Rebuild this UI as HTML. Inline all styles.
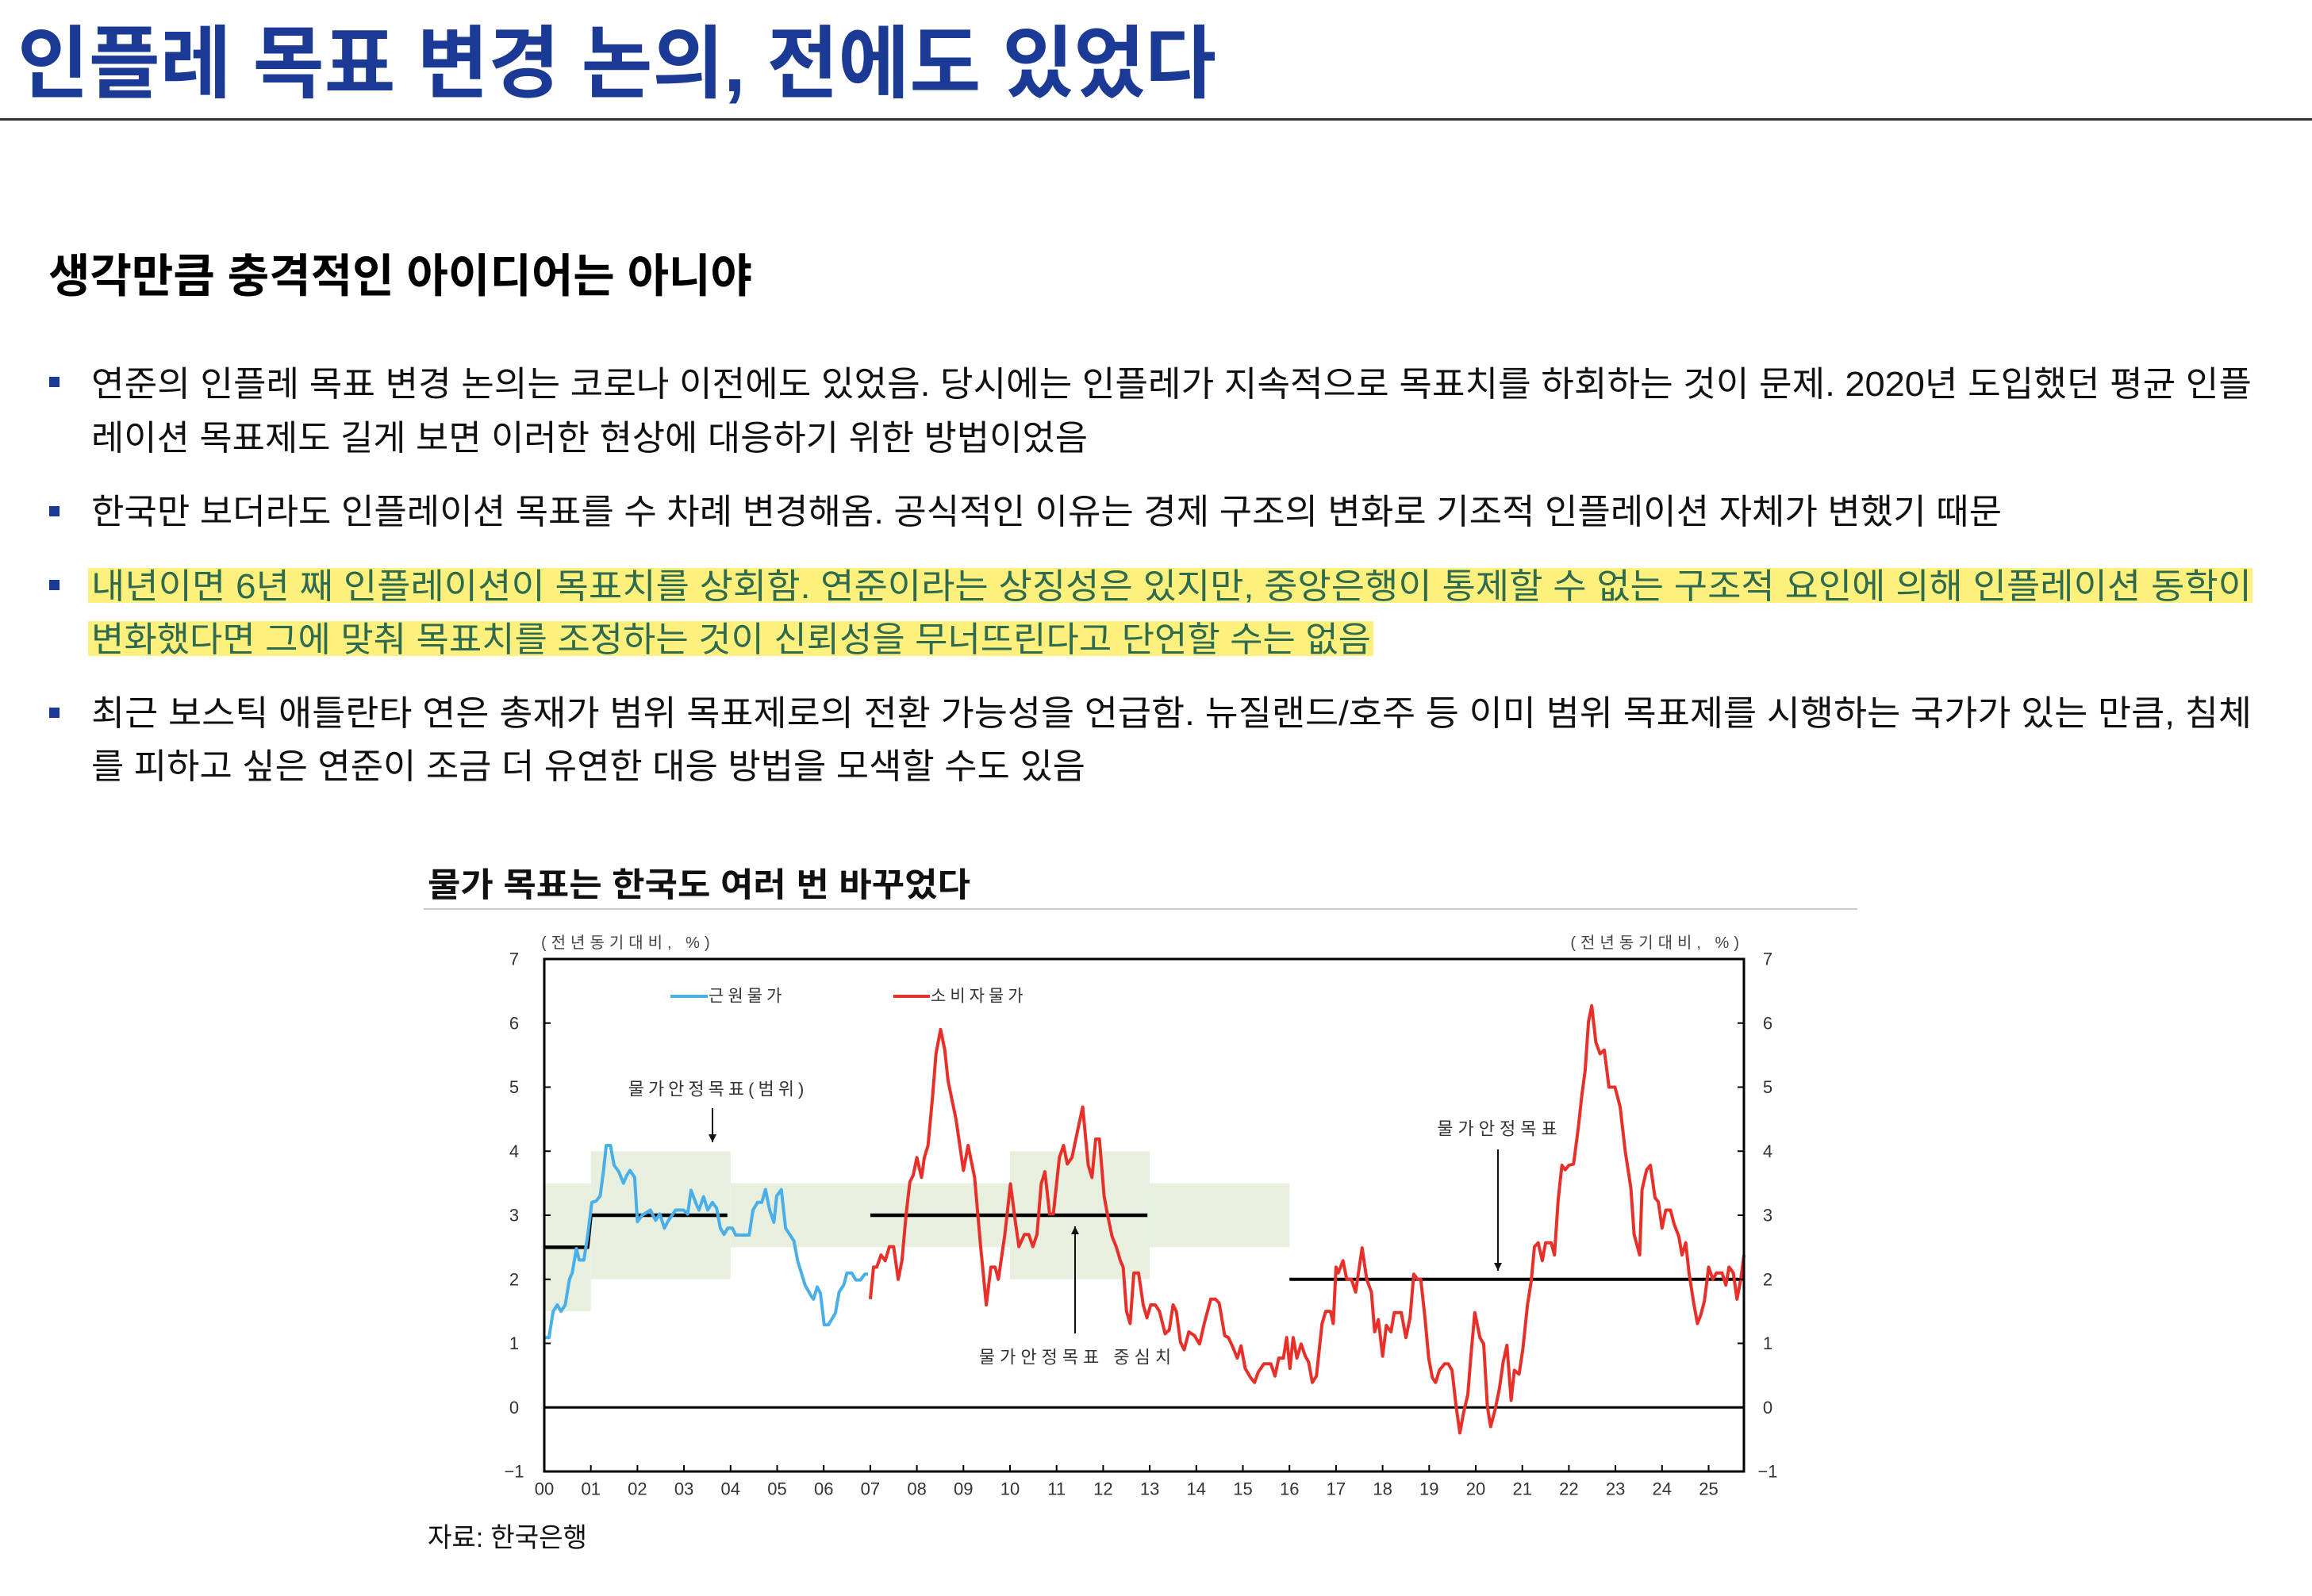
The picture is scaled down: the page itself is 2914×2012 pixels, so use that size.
<!DOCTYPE html>
<html lang="ko"><head><meta charset="utf-8">
<style>
html,body{margin:0;padding:0;background:#fff;}
body{width:2914px;height:2012px;position:relative;overflow:hidden;font-family:"Liberation Sans","Noto Sans CJK KR",sans-serif;}
.t{position:absolute;white-space:nowrap;line-height:1;transform-origin:0 50%;}
.bul{position:absolute;width:13px;height:13px;background:#1a3a96;}
.hl{position:absolute;background:#fdf07c;}
</style></head>
<body>
<div class="t" data-fit="1511" style="left:22px;top:31px;font-size:100px;font-weight:bold;color:#1a3a96;">인플레 목표 변경 논의, 전에도 있었다</div>
<div style="position:absolute;left:0;top:149px;width:2914px;height:3px;background:#333;"></div>
<div class="t" data-fit="887" style="left:61px;top:320px;font-size:58px;font-weight:bold;color:#000;">생각만큼 충격적인 아이디어는 아니야</div>

<div class="bul" style="left:62px;top:475px;"></div>
<div class="t" data-fit="2723" style="left:115px;top:463px;font-size:44px;color:#111;">연준의 인플레 목표 변경 논의는 코로나 이전에도 있었음. 당시에는 인플레가 지속적으로 목표치를 하회하는 것이 문제. 2020년 도입했던 평균 인플</div>
<div class="t" data-fit="1256" style="left:115px;top:531px;font-size:44px;color:#111;">레이션 목표제도 길게 보면 이러한 현상에 대응하기 위한 방법이었음</div>

<div class="bul" style="left:62px;top:638px;"></div>
<div class="t" data-fit="2408" style="left:115px;top:624px;font-size:44px;color:#111;">한국만 보더라도 인플레이션 목표를 수 차례 변경해옴. 공식적인 이유는 경제 구조의 변화로 기조적 인플레이션 자체가 변했기 때문</div>

<div class="hl" style="left:111px;top:716px;width:2728px;height:44px;"></div>
<div class="hl" style="left:111px;top:783px;width:1620px;height:44px;"></div>
<div class="bul" style="left:62px;top:731px;"></div>
<div class="t" data-fit="2723" style="left:115px;top:718px;font-size:44px;color:#2d6a4f;">내년이면 6년 째 인플레이션이 목표치를 상회함. 연준이라는 상징성은 있지만, 중앙은행이 통제할 수 없는 구조적 요인에 의해 인플레이션 동학이</div>
<div class="t" data-fit="1613" style="left:115px;top:785px;font-size:44px;color:#2d6a4f;">변화했다면 그에 맞춰 목표치를 조정하는 것이 신뢰성을 무너뜨린다고 단언할 수는 없음</div>

<div class="bul" style="left:62px;top:892px;"></div>
<div class="t" data-fit="2723" style="left:115px;top:878px;font-size:44px;color:#111;">최근 보스틱 애틀란타 연은 총재가 범위 목표제로의 전환 가능성을 언급함. 뉴질랜드/호주 등 이미 범위 목표제를 시행하는 국가가 있는 만큼, 침체</div>
<div class="t" data-fit="1253" style="left:115px;top:945px;font-size:44px;color:#111;">를 피하고 싶은 연준이 조금 더 유연한 대응 방법을 모색할 수도 있음</div>

<div class="t" data-fit="684" style="left:539px;top:1095px;font-size:42px;font-weight:bold;color:#111;">물가 목표는 한국도 여러 번 바꾸었다</div>
<div style="position:absolute;left:534px;top:1145px;width:1807px;height:2px;background:#ccc;"></div>
<div class="t" data-fit="201" style="left:539px;top:1922px;font-size:34px;color:#111;">자료: 한국은행</div>

<svg id="chart" width="2914" height="2012" style="position:absolute;left:0;top:0;" xmlns="http://www.w3.org/2000/svg"></svg>

<script>
// ---- chart data (t = years since Jan 2000, v = % yoy) ----
const coreT = [0,0.1,0.19,0.28,0.36,0.45,0.54,0.6,0.69,0.75,0.85,0.93,1.02,1.11,1.2,1.27,1.33,1.42,1.5,1.6,1.7,1.77,1.84,1.94,2.0,2.1,2.28,2.39,2.48,2.58,2.66,2.82,2.99,3.08,3.15,3.26,3.32,3.42,3.51,3.61,3.7,3.78,3.86,3.94,4.04,4.11,4.4,4.48,4.58,4.67,4.75,4.84,4.93,4.99,5.09,5.18,5.27,5.36,5.44,5.6,5.72,5.78,5.86,5.93,6.01,6.1,6.25,6.33,6.43,6.5,6.6,6.69,6.79,6.88,6.95];
const coreV = [1.09,1.09,1.5,1.6,1.5,1.6,2.0,2.1,2.48,2.3,2.3,2.67,3.2,3.22,3.3,3.68,4.09,4.09,3.78,3.68,3.5,3.62,3.7,3.59,2.9,3.0,3.08,2.92,3.02,2.8,2.91,3.08,3.08,3.02,3.39,3.18,3.08,3.29,3.08,3.2,3.11,2.8,2.7,2.8,2.8,2.69,2.69,3.08,3.2,3.2,3.4,3.08,2.89,3.3,3.4,2.8,2.7,2.6,2.29,1.91,1.75,1.69,1.88,1.78,1.29,1.29,1.47,1.8,1.91,2.1,2.1,1.99,1.99,2.08,2.08];
const cpiT = [7.0,7.07,7.14,7.23,7.32,7.41,7.5,7.6,7.68,7.77,7.85,7.92,8.0,8.1,8.16,8.24,8.34,8.41,8.51,8.6,8.67,8.84,9.0,9.1,9.24,9.37,9.49,9.59,9.68,9.75,9.89,10.01,10.11,10.19,10.31,10.4,10.49,10.58,10.67,10.75,10.85,10.93,11.06,11.15,11.23,11.33,11.44,11.56,11.68,11.76,11.84,11.92,12.02,12.09,12.19,12.28,12.37,12.43,12.5,12.58,12.66,12.76,12.86,12.94,13.02,13.12,13.21,13.33,13.42,13.5,13.57,13.66,13.74,13.84,13.96,14.07,14.17,14.31,14.41,14.49,14.61,14.69,14.79,14.88,14.96,15.05,15.17,15.25,15.33,15.45,15.6,15.69,15.77,15.87,15.94,16.01,16.08,16.16,16.25,16.34,16.41,16.49,16.58,16.7,16.78,16.88,16.94,17.0,17.05,17.15,17.23,17.33,17.42,17.56,17.66,17.76,17.83,17.91,18.0,18.08,18.18,18.25,18.4,18.5,18.59,18.67,18.75,18.82,18.91,18.99,19.07,19.14,19.22,19.33,19.41,19.49,19.58,19.66,19.74,19.83,19.9,19.98,20.09,20.17,20.25,20.32,20.42,20.51,20.59,20.67,20.76,20.83,20.93,21.01,21.11,21.19,21.26,21.34,21.43,21.5,21.62,21.69,21.77,21.85,21.92,22.0,22.1,22.2,22.28,22.35,22.42,22.49,22.58,22.67,22.76,22.86,22.99,23.1,23.21,23.33,23.4,23.52,23.57,23.67,23.75,23.85,23.92,24.0,24.08,24.18,24.26,24.36,24.43,24.51,24.58,24.68,24.76,24.83,24.91,25.0,25.09,25.17,25.29,25.37,25.44,25.53,25.61,25.69,25.76];
const cpiV = [1.69,2.19,2.19,2.38,2.29,2.51,2.51,2.0,2.29,3.02,3.52,3.62,3.9,3.59,3.9,4.09,4.88,5.52,5.9,5.58,5.1,4.5,3.7,4.09,3.59,2.51,1.6,2.19,2.19,2.0,2.7,3.49,2.92,2.51,2.7,2.7,2.51,2.7,3.49,3.68,3.02,3.02,3.9,4.09,3.8,3.9,4.28,4.69,3.78,3.59,4.19,4.19,3.3,3.02,2.67,2.51,2.29,2.19,1.5,1.31,2.1,2.1,1.6,1.4,1.6,1.6,1.5,1.15,1.21,1.6,1.5,1.02,0.9,1.18,1.12,0.99,1.31,1.69,1.69,1.63,1.12,1.09,0.93,0.77,0.96,0.61,0.46,0.39,0.55,0.68,0.68,0.49,0.77,0.77,1.09,0.61,1.09,0.77,0.99,0.8,0.71,0.39,0.49,1.31,1.5,1.5,1.31,2.19,2.1,2.29,2.0,2.0,1.8,2.49,2.0,1.8,1.18,1.37,0.8,1.28,1.18,1.48,1.48,1.09,1.4,2.08,2.0,2.0,1.4,0.77,0.46,0.39,0.58,0.68,0.68,0.58,0.01,-0.4,-0.08,0.2,0.83,1.48,1.09,0.99,0.01,-0.3,-0.02,0.3,0.71,0.97,0.11,0.58,0.52,0.9,1.6,1.97,2.51,2.57,2.29,2.57,2.57,2.38,3.24,3.78,3.71,3.78,3.8,4.35,4.88,5.26,6.02,6.27,5.7,5.52,5.58,5.0,5.0,4.69,4.0,3.43,2.7,2.38,3.4,3.71,3.78,3.27,3.21,2.8,3.08,3.08,2.86,2.67,2.38,2.57,2.1,1.63,1.31,1.44,1.66,2.19,2.0,2.1,2.1,1.91,2.19,2.1,1.69,2.0,2.38];
// target range bands: [start, end, low, high]
const bandStart = [0,1,4,10,13];
const bandEnd   = [1,4,10,13,16];
const bandLow   = [1.5,2,2.5,2,2.5];
const bandHigh  = [3.5,4,3.5,4,3.5];
// target center lines
const tgt1T = [0,0.93,1.0,3.93];
const tgt1V = [2.5,2.5,3.0,3.0];
const tgt2T = [7.0,12.95];
const tgt2V = [3.0,3.0];
const tgt3T = [16.0,25.76];
const tgt3V = [2.0,2.0];
const yTicks = [-1,0,1,2,3,4,5,6,7];
const yTickLabels = ['−1','0','1','2','3','4','5','6','7'];
const xTickLabels = ['00','01','02','03','04','05','06','07','08','09','10','11','12','13','14','15','16','17','18','19','20','21','22','23','24','25'];

const L=686,R=2198,T=1209,B=1855,YMIN=-1,YMAX=7;
const xs = t => L + t*58.7;
const ys = v => B - (v-YMIN)/(YMAX-YMIN)*(B-T);
const NS='http://www.w3.org/2000/svg';
const svg=document.getElementById('chart');
function mk(tag,attrs){const e=document.createElementNS(NS,tag);for(const k in attrs)e.setAttribute(k,attrs[k]);svg.appendChild(e);return e;}
function txt(s,x,y,size,anchor,fill,ls){const e=mk('text',{x:x,y:y,'font-size':size,'text-anchor':anchor,fill:fill||'#333','dominant-baseline':'central','letter-spacing':ls||0,'font-family':'"Liberation Sans","Noto Sans CJK KR",sans-serif'});e.textContent=s;return e;}

for(let i=0;i<bandStart.length;i++){
  const r=mk('rect',{x:xs(bandStart[i]),y:ys(bandHigh[i]),width:xs(bandEnd[i])-xs(bandStart[i]),height:ys(bandLow[i])-ys(bandHigh[i]),fill:'#e7f0df'});
  
  
}
const zl=mk('line',{x1:L,x2:R,y1:ys(0),y2:ys(0),stroke:'#000','stroke-width':3});



function poly(T_,V_,color,w,name){
  const p=mk('polyline',{points:T_.map((t,i)=>xs(t).toFixed(1)+','+ys(V_[i]).toFixed(1)).join(' '),fill:'none',stroke:color,'stroke-width':w,'stroke-linejoin':'round'});
  
  
}
poly(tgt1T,tgt1V,'#000',4.5,'target-line-2000s');
poly(tgt2T,tgt2V,'#000',4.5,'target-line-2007-2012');
poly(tgt3T,tgt3V,'#000',4,'target-line-2016-on');
poly(coreT,coreV,'#4aaee8',4,'core-inflation-line');
poly(cpiT,cpiV,'#e8302a',4,'cpi-line');

const fr=mk('rect',{x:L,y:T,width:R-L,height:B-T,fill:'none',stroke:'#000','stroke-width':3});



yTicks.forEach((v,i)=>{
  mk('line',{x1:L,x2:L+8,y1:ys(v),y2:ys(v),stroke:'#000','stroke-width':2});
  mk('line',{x1:R-8,x2:R,y1:ys(v),y2:ys(v),stroke:'#000','stroke-width':2});
  const a=txt(yTickLabels[i],648,ys(v),22,'middle');
  
  
  const b=txt(yTickLabels[i],2228,ys(v),22,'middle');
  
  
});
xTickLabels.forEach((s,i)=>{
  if(i>0) mk('line',{x1:xs(i),x2:xs(i),y1:B-8,y2:B,stroke:'#000','stroke-width':2});
  const e=txt(s,xs(i),1877,22,'middle');
  
  
});
let u=txt('(전년동기대비, %)',682,1189,20,'start','#444',6);


u=txt('(전년동기대비, %)',2198,1189,20,'end','#444',6);



// legend
mk('line',{x1:845,x2:892,y1:1256,y2:1256,stroke:'#4aaee8','stroke-width':4});
let lg=txt('근원물가',893,1256,21,'start','#333',5);


mk('line',{x1:1126,x2:1172,y1:1256,y2:1256,stroke:'#e8302a','stroke-width':4});
lg=txt('소비자물가',1173,1256,21,'start','#333',5);



// annotations
function arrow(x,y1,y2,name){
  const g=mk('line',{x1:x,x2:x,y1:y1,y2:y2,stroke:'#111','stroke-width':2});
  
  
  const d=y2>y1?1:-1;
  mk('polygon',{points:`${x-5},${y2-10*d} ${x+5},${y2-10*d} ${x},${y2}`,fill:'#111'});
}
let an=txt('물가안정목표(범위)',905,1373,22,'middle','#333',5);


arrow(898,1397,1440,'arrow-range');
an=txt('물가안정목표',1890,1423,22,'middle','#333',6);


arrow(1888,1449,1602,'arrow-target');
an=txt('물가안정목표 중심치',1358,1711,22,'middle','#333',6);


arrow(1355,1681,1546,'arrow-center');

// fit text lines to measured widths
document.querySelectorAll('[data-fit]').forEach(el=>{
  const w=el.getBoundingClientRect().width;
  const tw=parseFloat(el.getAttribute('data-fit'));
  if(w>0) el.style.transform='scaleX('+(tw/w)+')';
});
</script>
</body></html>
